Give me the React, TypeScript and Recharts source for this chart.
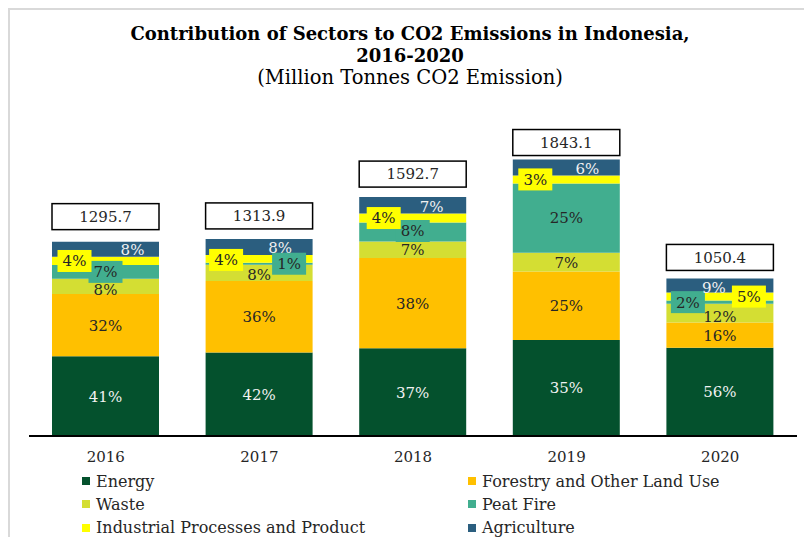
import { Bar, BarChart, LabelList, XAxis, YAxis } from "recharts";

const YEARS = ["2016", "2017", "2018", "2019", "2020"];
const TOTALS = [1295.7, 1313.9, 1592.7, 1843.1, 1050.4];

// million tonnes CO2
const ENERGY = [531, 556, 585, 640, 588];
const FORESTRY = [415, 478, 602, 456, 168];
const WASTE = [103, 108, 110, 126, 126];
const PEAT_FIRE = [90.3, 13, 126, 462, 21];
const INDUSTRIAL = [55, 51, 60, 53, 53];
const AGRICULTURE = [101.4, 107.9, 109.7, 106.1, 94.4];

const FONT = "'DejaVu Serif', serif";

const SERIES = [
  { key: "energy", label: "Energy", fill: "#04512D", text: "#f2f2f2", box: false },
  { key: "forestry", label: "Forestry and Other Land Use", fill: "#FFC000", text: "#262626", box: false },
  { key: "waste", label: "Waste", fill: "#D4DE33", text: "#262626", box: false },
  { key: "peatFire", label: "Peat Fire", fill: "#41AE8F", text: "#262626", box: true },
  { key: "industrial", label: "Industrial Processes and Product", fill: "#FFFF00", text: "#262626", box: true },
  { key: "agriculture", label: "Agriculture", fill: "#2B5E7F", text: "#f2f2f2", box: false },
];

const data = YEARS.map((year, i) => ({
  year,
  total: TOTALS[i],
  energy: ENERGY[i],
  forestry: FORESTRY[i],
  waste: WASTE[i],
  peatFire: PEAT_FIRE[i],
  industrial: INDUSTRIAL[i],
  agriculture: AGRICULTURE[i],
}));

// hand-dragged label positions (px from segment centre), like in the source sheet
const NUDGE: Record<string, number[][]> = {
  waste: [[0, 3], [0, 2], [0, 0], [0, 0], [0, 3]],
  peatFire: [[0, 0], [30, 0], [0, -1], [0, 0], [-32, 0]],
  industrial: [[-31, 0], [-33, 1], [-29, 0], [-31, 0], [29, 0]],
  agriculture: [[27, 0], [21, 1], [19, 1], [21, 1], [-6, 2]],
};
const TOTAL_GAP = [12, 10, 10, 4, 8];

const percentLabel = (s: (typeof SERIES)[number]) => (props: any) => {
  const { x, y, width, height, value, index } = props;
  const pct = `${Math.round((value / TOTALS[index]) * 100)}%`;
  const [dx, dy] = NUDGE[s.key]?.[index] ?? [0, 0];
  const cx = x + width / 2 + dx;
  const cy = y + height / 2 + dy;
  const boxed = s.box && Math.abs(height) < 20;
  const bw = 12 + pct.length * 11;
  return (
    <g>
      {boxed && <rect x={cx - bw / 2} y={cy - 11} width={bw} height={22} fill={s.fill} />}
      <text
        x={cx}
        y={cy}
        dy="0.36em"
        textAnchor="middle"
        fill={s.text}
        fontFamily={FONT}
        fontSize={15}
      >
        {pct}
      </text>
    </g>
  );
};

const totalLabel = (props: any) => {
  const { x, y, width, value, index } = props;
  const top = y - TOTAL_GAP[index] - 26;
  return (
    <g>
      <rect x={x} y={top} width={width} height={26} fill="#fff" stroke="#000" strokeWidth={1.5} />
      <text
        x={x + width / 2}
        y={top + 13}
        dy="0.36em"
        textAnchor="middle"
        fill="#262626"
        fontFamily={FONT}
        fontSize={15}
      >
        {Number(value).toFixed(1)}
      </text>
    </g>
  );
};

export default function App() {
  return (
    <div style={{ position: "absolute", left: 0, top: 0, width: 804, height: 537, background: "#fff", fontFamily: FONT }}>
      <div
        style={{
          position: "absolute",
          left: 8,
          top: 8,
          width: 796,
          height: 529,
          borderTop: "2px solid #D9D9D9",
          borderLeft: "2px solid #D9D9D9",
        }}
      />
      <div style={{ position: "absolute", left: 0, width: 820, top: 23, textAlign: "center", color: "#000" }}>
        <div style={{ fontWeight: "bold", fontSize: 18, lineHeight: "22px" }}>
          Contribution of Sectors to CO2 Emissions in Indonesia,
        </div>
        <div style={{ fontWeight: "bold", fontSize: 18, lineHeight: "22px" }}>2016-2020</div>
        <div style={{ fontSize: 19.5, lineHeight: "21px" }}>(Million Tonnes CO2 Emission)</div>
      </div>

      <BarChart
        width={804}
        height={537}
        data={data}
        margin={{ top: 136, right: 7, bottom: 71, left: 29 }}
        barSize={107}
        style={{ position: "absolute", left: 0, top: 0 }}
      >
        <XAxis
          dataKey="year"
          height={30}
          tickLine={false}
          tickSize={0}
          tickMargin={15}
          axisLine={{ stroke: "#000", strokeWidth: 2 }}
          tick={{ fill: "#262626", fontSize: 15, fontFamily: FONT }}
        />
        <YAxis hide domain={[0, 2000]} />
        {SERIES.map((s) => (
          <Bar key={s.key} dataKey={s.key} stackId="co2" fill={s.fill} isAnimationActive={false}>
            <LabelList dataKey={s.key} content={percentLabel(s)} />
            {s.key === "agriculture" && <LabelList dataKey="total" content={totalLabel} />}
          </Bar>
        ))}
      </BarChart>

      {SERIES.map((s, i) => {
        const col = i % 2;
        const row = Math.floor(i / 2);
        return (
          <div
            key={s.key}
            style={{
              position: "absolute",
              left: col === 0 ? 82 : 468,
              top: 470 + row * 23.3,
              height: 22,
              display: "flex",
              alignItems: "center",
              fontSize: 16,
              color: "#262626",
              whiteSpace: "nowrap",
            }}
          >
            <span style={{ width: 8, height: 8, background: s.fill, marginRight: 6, display: "inline-block" }} />
            {s.label}
          </div>
        );
      })}
    </div>
  );
}
